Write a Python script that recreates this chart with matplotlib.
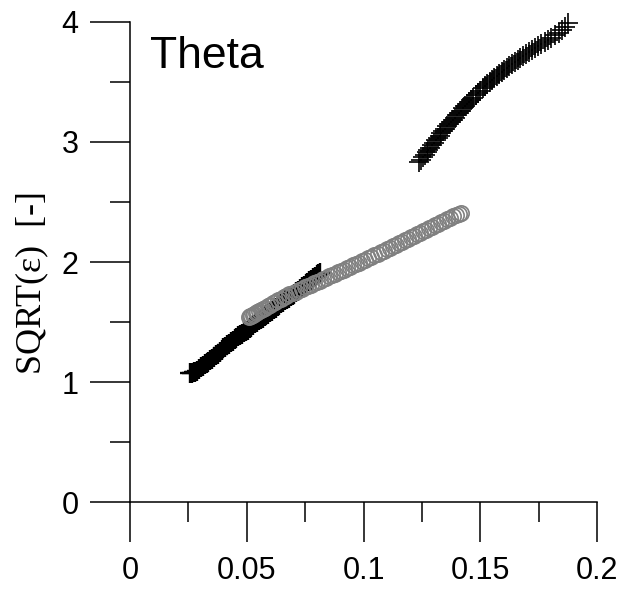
import matplotlib
matplotlib.use("Agg")
import matplotlib.pyplot as plt
from matplotlib.ticker import MultipleLocator

# Series 1: dense black plus markers
s1_x = [0.0257,0.0265,0.0272,0.0280,0.0288,0.0296,0.0304,0.0312,0.0320,0.0328,
        0.0336,0.0344,0.0352,0.0360,0.0368,0.0376,0.0384,0.0392,0.0400,0.0408,
        0.0416,0.0424,0.0432,0.0440,0.0448,0.0456,0.0464,0.0472,0.0480,0.0488,
        0.0496,0.0504,0.0512,0.0520,0.0528,0.0536,0.0544,0.0552,0.0560,0.0568,
        0.0576,0.0584,0.0592,0.0600,0.0608,0.0616,0.0624,0.0632,0.0640,0.0648,
        0.0656,0.0664,0.0672,0.0680,0.0688,0.0696,0.0704,0.0712,0.0720,0.0728,
        0.0736,0.0744,0.0752,0.0760,0.0768,0.0776,0.0784,0.0792,0.0800,0.0807,
        0.0814]
s1_y = [1.075,1.077,1.080,1.087,1.095,1.110,1.126,1.137,1.148,1.159,
        1.170,1.182,1.193,1.208,1.222,1.237,1.251,1.266,1.280,1.293,
        1.306,1.318,1.331,1.344,1.357,1.370,1.380,1.391,1.402,1.413,
        1.424,1.436,1.449,1.462,1.475,1.488,1.500,1.513,1.524,1.535,
        1.546,1.558,1.569,1.580,1.593,1.606,1.618,1.631,1.644,1.657,
        1.668,1.680,1.691,1.702,1.713,1.724,1.736,1.749,1.762,1.775,
        1.788,1.800,1.813,1.825,1.838,1.850,1.863,1.875,1.888,1.899,
        1.910]

# Series 2: black plus markers (upper curve)
s2_x = [0.1238,0.1246,0.1254,0.1262,0.1270,0.1278,0.1286,0.1294,0.1302,0.1310,
        0.1318,0.1326,0.1334,0.1342,0.1350,0.1358,0.1366,0.1374,0.1382,0.1390,
        0.1399,0.1408,0.1417,0.1426,0.1435,0.1444,0.1453,0.1462,0.1471,0.1480,
        0.1490,0.1500,0.1510,0.1520,0.1530,0.1540,0.1550,0.1560,0.1570,0.1581,
        0.1592,0.1603,0.1614,0.1625,0.1636,0.1648,0.1660,0.1672,0.1684,0.1696,
        0.1709,0.1722,0.1735,0.1748,0.1762,0.1776,0.1790,0.1805,0.1820,0.1836,
        0.1852,0.1864,0.1876]
s2_y = [2.830,2.851,2.871,2.892,2.913,2.933,2.954,2.975,2.995,3.014,
        3.034,3.053,3.073,3.092,3.112,3.131,3.150,3.169,3.186,3.203,
        3.222,3.241,3.261,3.280,3.299,3.318,3.335,3.353,3.370,3.388,
        3.407,3.426,3.446,3.464,3.481,3.498,3.515,3.533,3.550,3.567,
        3.585,3.602,3.620,3.637,3.652,3.668,3.684,3.700,3.715,3.731,
        3.748,3.765,3.782,3.797,3.814,3.831,3.849,3.869,3.890,3.912,
        3.937,3.961,3.990]

# Series 3: grey open circles
s3_x = [0.0510,0.0515,0.0520,0.0526,0.0532,0.0539,0.0546,0.0554,0.0562,0.0571,
        0.0580,0.0590,0.0600,0.0611,0.0622,0.0634,0.0646,0.0658,0.0670,0.0683,
        0.0696,0.0709,0.0722,0.0735,0.0748,0.0761,0.0774,0.0787,0.0800,0.0813,
        0.0826,0.0839,0.0852,0.0865,0.0878,0.0891,0.0904,0.0917,0.0930,0.0943,
        0.0956,0.0969,0.0982,0.0995,0.1008,0.1021,0.1034,0.1047,0.1060,0.1073,
        0.1086,0.1099,0.1112,0.1125,0.1138,0.1151,0.1164,0.1177,0.1190,0.1203,
        0.1216,0.1229,0.1242,0.1255,0.1268,0.1281,0.1294,0.1307,0.1320,0.1333,
        0.1346,0.1359,0.1372,0.1385,0.1398,0.1408,0.1418]
s3_y = [1.540,1.546,1.552,1.559,1.566,1.574,1.582,1.591,1.600,1.610,
        1.620,1.631,1.643,1.655,1.667,1.681,1.694,1.707,1.718,1.730,
        1.742,1.753,1.765,1.776,1.788,1.799,1.811,1.822,1.834,1.845,
        1.857,1.868,1.880,1.891,1.903,1.914,1.926,1.937,1.949,1.960,
        1.972,1.983,1.995,2.006,2.018,2.030,2.043,2.055,2.068,2.080,
        2.093,2.105,2.118,2.130,2.142,2.155,2.167,2.180,2.192,2.205,
        2.217,2.230,2.242,2.255,2.267,2.280,2.292,2.305,2.317,2.330,
        2.342,2.355,2.367,2.380,2.392,2.402,2.411]

x_ticks = [0, 0.05, 0.1, 0.15, 0.2]
x_ticklabels = ["0", "0.05", "0.1", "0.15", "0.2"]
y_ticks = [0, 1, 2, 3, 4]
y_ticklabels = ["0", "1", "2", "3", "4"]
title_text = "Theta"
y_label = "SQRT(\u03b5)  [-]"

plt.rcParams['font.family'] = ['Liberation Sans', 'DejaVu Sans']

fig = plt.figure(figsize=(6.37, 5.99), dpi=100)
ax = fig.add_axes([0.2041, 0.1619, 0.7331, 0.8014])

ax.plot(s1_x, s1_y, linestyle='none', marker='+', color='black',
        markersize=14, markeredgewidth=1.7, clip_on=False, zorder=2)
ax.plot(s2_x, s2_y, linestyle='none', marker='+', color='black',
        markersize=14, markeredgewidth=1.2, clip_on=False, zorder=2)
ax.plot(s3_x, s3_y, linestyle='none', marker='o', markerfacecolor='none',
        markeredgecolor='#808080', markersize=11, markeredgewidth=1.2,
        clip_on=False, zorder=3)

ax.set_xlim(0, 0.2)
ax.set_ylim(0, 4)
ax.set_xticks(x_ticks)
ax.set_xticklabels(x_ticklabels)
ax.set_yticks(y_ticks)
ax.set_yticklabels(y_ticklabels)
ax.xaxis.set_minor_locator(MultipleLocator(0.025))
ax.yaxis.set_minor_locator(MultipleLocator(0.5))

for s in ['top', 'right']:
    ax.spines[s].set_visible(False)
for s in ['left', 'bottom']:
    ax.spines[s].set_linewidth(1.1)

ax.tick_params(which='major', direction='out', length=29, width=1.1,
               labelsize=22, colors='black')
ax.tick_params(which='minor', direction='out', length=14.5, width=1.1)
ax.tick_params(axis='x', which='major', pad=10)
ax.tick_params(axis='y', which='major', pad=8)

ax.text(0.043, 0.904, title_text, transform=ax.transAxes, fontsize=32,
        ha='left', va='baseline', family=['Liberation Sans', 'DejaVu Sans'])

fig.text(32/637, 1 - 283/599, y_label, rotation=90, ha='center', va='center',
         fontsize=26, family=['Liberation Serif', 'DejaVu Serif'])

fig.savefig('out.png', dpi=100)
